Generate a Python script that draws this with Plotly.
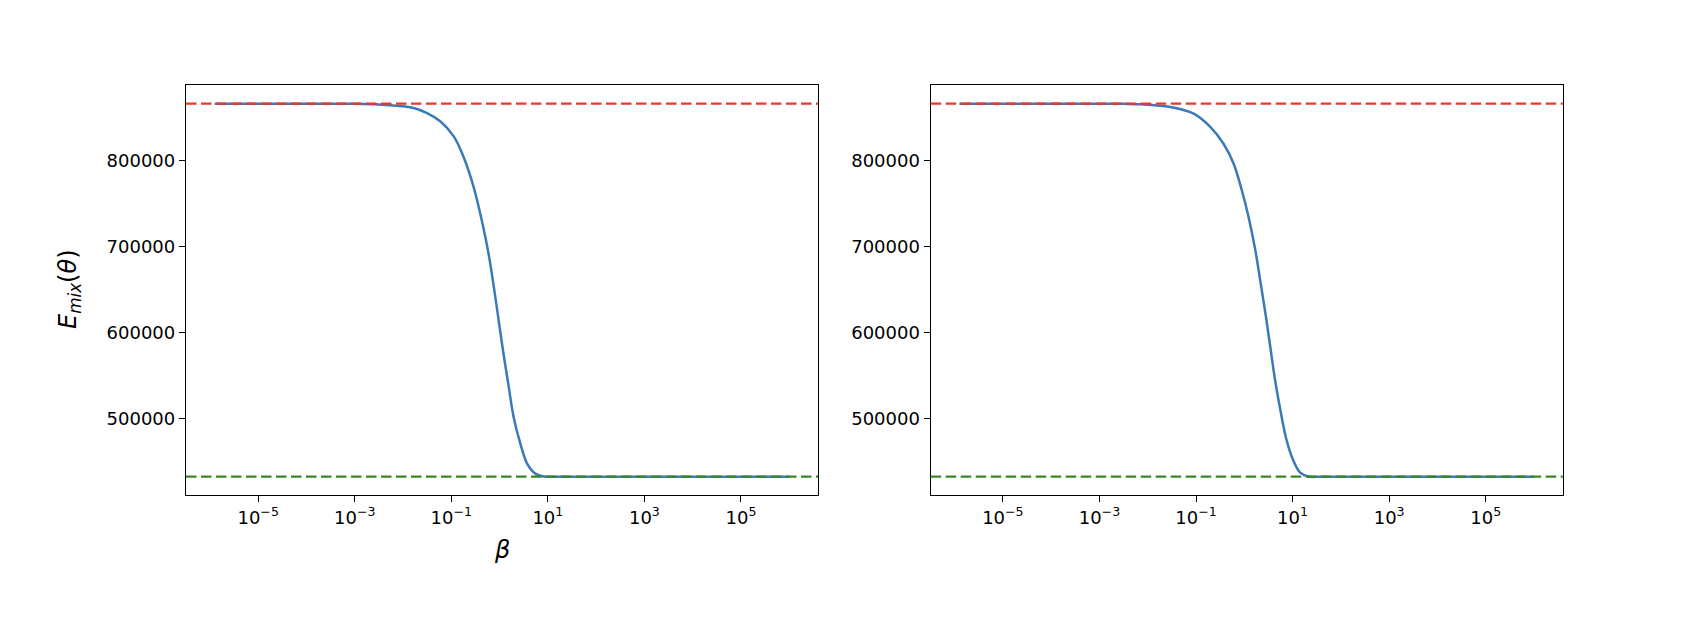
import numpy as np
import plotly.graph_objects as go

# ---- data ----
# left panel: log10(beta) and E_mix
LOG_BETA_LEFT = [-5.9, -4.0, -3.0, -2.5, -2.2, -2.0, -1.78, -1.5, -1.23, -0.95, -0.75,
                 -0.54, -0.37, -0.23, -0.12, -0.02, 0.08, 0.19, 0.29, 0.43, 0.57,
                 0.74, 0.91, 1.2, 3.0, 6.0]
E_LEFT = [866025, 866000, 865800, 865100, 864000, 862900, 860900, 855000, 845500, 828000, 804700,
          769800, 731000, 692300, 653500, 614800, 576000, 537200, 502300, 471400, 448100,
          436500, 433300, 433013, 433013, 433013]

# right panel: log10(beta) and E_mix
LOG_BETA_RIGHT = [-5.9, -4.0, -2.5, -2.15, -1.53, -1.05, -0.70, -0.43, -0.22, -0.05,
                  0.09, 0.23, 0.33, 0.44, 0.54, 0.64, 0.75, 0.88, 1.02, 1.16,
                  1.33, 1.6, 3.0, 6.0]
E_RIGHT = [866025, 866000, 865800, 865300, 862100, 854400, 838800, 819500, 796300, 765200,
           734200, 695400, 660600, 621800, 583000, 544300, 509400, 474500, 451200, 437600,
           433100, 433013, 433013, 433013]

E_UPPER = 866025   # red dashed reference
E_LOWER = 433013   # green dashed reference

X_TICK_EXP = [-5, -3, -1, 1, 3, 5]
X_TICK_TEXT = ["10<sup>−5</sup>", "10<sup>−3</sup>", "10<sup>−1</sup>",
               "10<sup>1</sup>", "10<sup>3</sup>", "10<sup>5</sup>"]
Y_TICKS = [500000, 600000, 700000, 800000]
Y_TICK_TEXT = ["500000", "600000", "700000", "800000"]

Y_LABEL = "<i>E</i><sub><i>mix</i></sub>(<i>θ</i>)"
X_LABEL = "<i>β</i>"

# ---- styling ----
PAGE_W, PAGE_H = 1682, 630
OFF = 8                      # default page body margin of the html wrapper
W, H = PAGE_W - OFF, PAGE_H - OFF
FONT = "DejaVu Sans"
BLUE = "#3a7ab9"
RED = "#e8392b"
GREEN = "#3b8526"


def px_x(p):
    return (p - OFF) / W


def px_y(p):
    return 1 - (p - OFF) / H


fig = go.Figure()

fig.add_trace(go.Scatter(x=10 ** np.array(LOG_BETA_LEFT), y=E_LEFT, mode="lines",
                         line=dict(color=BLUE, width=2.5, shape="spline", smoothing=1.0),
                         xaxis="x", yaxis="y", showlegend=False))
fig.add_trace(go.Scatter(x=10 ** np.array(LOG_BETA_RIGHT), y=E_RIGHT, mode="lines",
                         line=dict(color=BLUE, width=2.5, shape="spline", smoothing=1.0),
                         xaxis="x2", yaxis="y2", showlegend=False))

for xr, yr in (("x", "y"), ("x2", "y2")):
    for val, col in ((E_UPPER, RED), (E_LOWER, GREEN)):
        fig.add_shape(type="line", xref=f"{xr} domain", yref=yr, x0=0, x1=1,
                      y0=val, y1=val, line=dict(color=col, width=2.4, dash="10.5px,4.5px"),
                      layer="above")

# matplotlib-like autoscale with 5% margins
lo = min(LOG_BETA_LEFT); hi = max(LOG_BETA_LEFT)
xr_ = [lo - 0.05 * (hi - lo), hi + 0.05 * (hi - lo)]
ylo, yhi = E_LOWER, E_UPPER
yr_ = [ylo - 0.05 * (yhi - ylo), yhi + 0.05 * (yhi - ylo)]

axis_common = dict(showline=True, linecolor="black", linewidth=1.3, mirror=True,
                   ticks="outside", ticklen=6, tickwidth=1.3, tickcolor="black",
                   showgrid=False, zeroline=False,
                   tickfont=dict(family=FONT, size=18, color="black"))

xdom1 = [px_x(186), px_x(818)]
xdom2 = [px_x(930.7), px_x(1562.7)]
ydom = [px_y(495.3), px_y(85)]

xtickvals = [10.0 ** e for e in X_TICK_EXP]

fig.update_layout(
    width=W, height=H,
    margin=dict(l=0, r=0, t=0, b=0),
    paper_bgcolor="white", plot_bgcolor="white",
    xaxis=dict(domain=xdom1, type="log", range=xr_, anchor="y",
               tickvals=xtickvals, ticktext=X_TICK_TEXT, **axis_common),
    yaxis=dict(domain=ydom, range=yr_, anchor="x",
               tickvals=Y_TICKS, ticktext=Y_TICK_TEXT, **axis_common),
    xaxis2=dict(domain=xdom2, type="log", range=xr_, anchor="y2",
                tickvals=xtickvals, ticktext=X_TICK_TEXT, **axis_common),
    yaxis2=dict(domain=ydom, range=yr_, anchor="x2",
                tickvals=Y_TICKS, ticktext=Y_TICK_TEXT, **axis_common),
    annotations=[
        dict(text=Y_LABEL, xref="paper", yref="paper", x=px_x(69), y=px_y(289),
             textangle=-90, showarrow=False, xanchor="center", yanchor="middle",
             font=dict(family=FONT, size=24, color="black")),
        dict(text=X_LABEL, xref="paper", yref="paper", x=px_x(502), y=px_y(550),
             showarrow=False, xanchor="center", yanchor="middle",
             font=dict(family=FONT, size=24, color="black")),
    ],
)

fig.write_html("out.html")
